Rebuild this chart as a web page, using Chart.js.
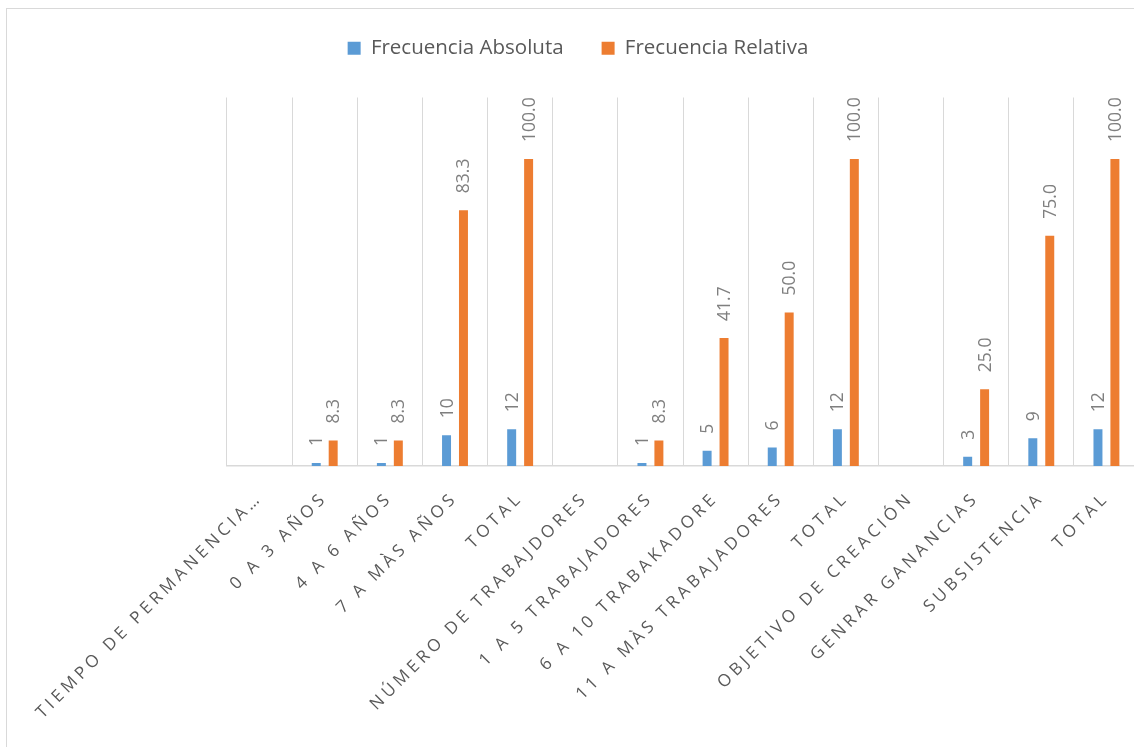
<!DOCTYPE html>
<html lang="es">
<head>
<meta charset="utf-8">
<title>Frecuencia absoluta y relativa</title>
<script src="https://cdn.jsdelivr.net/npm/chart.js@4.4.1/dist/chart.umd.min.js"></script>
<style>
  html, body { margin: 0; padding: 0; background: #fff; overflow: hidden; }
  #wrap { position: relative; width: 1134px; height: 747px; overflow: hidden; }
  #frame { position: absolute; left: 6px; top: 8px; width: 2000px; height: 2000px;
           border-left: 1px solid #d9d9d9; border-top: 1px solid #d9d9d9; }
  #chart { position: absolute; left: 0; top: 0; }
</style>
</head>
<body>
<div id="wrap">
  <div id="frame"></div>
  <canvas id="chart" width="1150" height="747"></canvas>
</div>
<script>
// Categorías del eje X
const categorias = [
    'TIEMPO DE PERMANENCIA…', '0 A 3 AÑOS', '4 A 6 AÑOS', '7 A MÀS AÑOS', 'TOTAL',
    'NÚMERO DE TRABAJDORES', '1 A 5 TRABAJADORES', '6 A 10 TRABAKADORE', '11 A MÀS TRABAJADORES', 'TOTAL',
    'OBJETIVO DE CREACIÓN', 'GENRAR GANANCIAS', 'SUBSISTENCIA', 'TOTAL'
];

// Series
const frecAbsoluta = [null, 1, 1, 10, 12, null, 1, 5, 6, 12, null, 3, 9, 12];
const frecRelativa = [null, 8.3, 8.3, 83.3, 100.0, null, 8.3, 41.7, 50.0, 100.0, null, 25.0, 75.0, 100.0];

const nombresSeries = ['Frecuencia Absoluta', 'Frecuencia Relativa'];
const colores = ['#5B9BD5', '#ED7D31'];

// Etiquetas de datos verticales sobre cada barra
const etiquetasBarras = {
    id: 'etiquetasBarras',
    afterDatasetsDraw(chart) {
        const ctx = chart.ctx;
        ctx.save();
        ctx.font = '17.5px "Open Sans"';
        ctx.fillStyle = '#7f7f7f';
        ctx.textAlign = 'left';
        ctx.textBaseline = 'middle';
        chart.data.datasets.forEach((ds, i) => {
            const meta = chart.getDatasetMeta(i);
            meta.data.forEach((bar, j) => {
                const v = ds.data[j];
                if (v === null) return;
                const txt = i === 0 ? String(v) : v.toFixed(1);
                ctx.save();
                ctx.translate(bar.x + 1, bar.y - 17);
                ctx.rotate(-Math.PI / 2);
                ctx.fillText(txt, 0, 0);
                ctx.restore();
            });
        });
        ctx.restore();
        // las etiquetas del eje X (z = 1) se dibujan despues, con espaciado
        ctx.letterSpacing = '4px';
    },
    afterDraw(chart) {
        chart.ctx.letterSpacing = '0px';
    }
};

// Deja espacio entre la leyenda y el area de trazado
const altoLeyenda = {
    id: 'altoLeyenda',
    beforeInit(chart) {
        const fitOriginal = chart.legend.fit;
        chart.legend.fit = function () {
            fitOriginal.call(this);
            this.height += 29;
        };
    }
};

new Chart(document.getElementById('chart'), {
    type: 'bar',
    data: {
        labels: categorias,
        datasets: [
            {
                label: nombresSeries[0],
                data: frecAbsoluta,
                backgroundColor: colores[0],
                borderWidth: 0,
                categoryPercentage: 0.52,
                barPercentage: 0.53
            },
            {
                label: nombresSeries[1],
                data: frecRelativa,
                backgroundColor: colores[1],
                borderWidth: 0,
                categoryPercentage: 0.52,
                barPercentage: 0.53
            }
        ]
    },
    options: {
        responsive: false,
        devicePixelRatio: 1,
        animation: false,
        layout: { padding: { left: 17, right: 11, top: 0, bottom: 0 } },
        plugins: {
            legend: {
                position: 'top',
                labels: {
                    boxWidth: 13,
                    boxHeight: 13,
                    padding: 38,
                    color: '#595959',
                    font: { family: 'Open Sans', size: 20.5 }
                }
            },
            tooltip: { enabled: false }
        },
        scales: {
            x: {
                grid: { display: true, offset: true, color: '#d9d9d9', lineWidth: 1, drawTicks: false },
                border: { display: true, color: '#d9d9d9', width: 1.5 },
                ticks: {
                    autoSkip: false,
                    minRotation: 45,
                    maxRotation: 45,
                    padding: 22,
                    labelOffset: 0,
                    color: '#595959',
                    font: { family: 'Open Sans', size: 17 },
                    z: 1
                },
                afterFit(scale) { scale.height = 281; }
            },
            y: {
                min: 0,
                max: 120,
                grid: { display: false },
                border: { display: false },
                ticks: { display: false },
                afterFit(scale) { scale.width = 210; }
            }
        }
    },
    plugins: [etiquetasBarras, altoLeyenda]
});
</script>
</body>
</html>
